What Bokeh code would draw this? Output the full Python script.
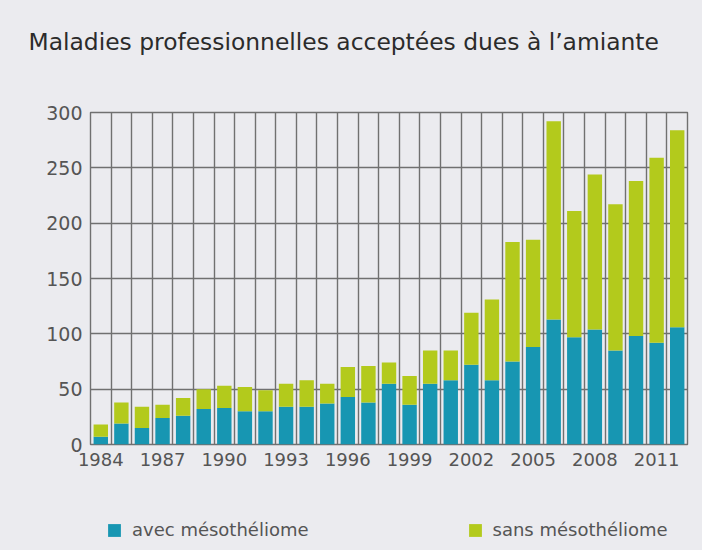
from bokeh.plotting import figure
from bokeh.layouts import column
from bokeh.models import (Range1d, FixedTicker, Legend, LegendItem, ColumnDataSource, Title)
from bokeh.embed import file_html
from bokeh.resources import INLINE

# ---- data ----
years = [1984, 1985, 1986, 1987, 1988, 1989, 1990, 1991, 1992, 1993, 1994, 1995,
         1996, 1997, 1998, 1999, 2000, 2001, 2002, 2003, 2004, 2005, 2006, 2007,
         2008, 2009, 2010, 2011, 2012]
avec = [7, 19, 15, 24, 26, 32, 33, 30, 30, 34, 34, 37,
        43, 38, 55, 36, 55, 58, 72, 58, 75, 88, 113, 97,
        104, 85, 98, 92, 106]
sans = [11, 19, 19, 12, 16, 18, 20, 22, 19, 21, 24, 18,
        27, 33, 19, 26, 30, 27, 47, 73, 108, 97, 179, 114,
        140, 132, 140, 167, 178]
x_ticks = [1984, 1987, 1990, 1993, 1996, 1999, 2002, 2005, 2008, 2011]
y_ticks = [0, 50, 100, 150, 200, 250, 300]
series_names = ["avec mésothéliome", "sans mésothéliome"]
colors = ["#1796b2", "#b3ca1c"]
title_text = "Maladies professionnelles acceptées dues à l’amiante"

BG = "#ebebef"
GRID = "#707070"
FONT = "DejaVu Sans"
W = 702

source = ColumnDataSource(dict(year=years, avec=avec, sans=sans))

# ---------------- main chart ----------------
p = figure(width=W, height=478, output_backend="svg", toolbar_location=None,
           x_range=Range1d(years[0] - 0.5, years[-1] + 0.5),
           y_range=Range1d(0, 300),
           min_border_left=90, min_border_right=15,
           min_border_top=112, min_border_bottom=34)
p.background_fill_color = BG
p.border_fill_color = BG
p.outline_line_color = GRID
p.outline_line_width = 1.4

p.vbar_stack(["avec", "sans"], x="year", width=0.7, color=colors,
             line_color=None, source=source)

p.xaxis.ticker = FixedTicker(ticks=x_ticks)
p.yaxis.ticker = FixedTicker(ticks=y_ticks)
for ax in (p.xaxis, p.yaxis):
    ax.axis_line_color = None
    ax.major_tick_line_color = None
    ax.minor_tick_line_color = None
    ax.major_tick_out = 0
    ax.major_label_text_font = FONT
    ax.major_label_text_color = "#555555"
p.xaxis.major_label_text_font_size = "18px"
p.yaxis.major_label_text_font_size = "19px"
p.xaxis.major_label_standoff = 8
p.yaxis.major_label_standoff = 8

p.xgrid.ticker = FixedTicker(ticks=[y - 0.5 for y in years] + [years[-1] + 0.5])
p.ygrid.ticker = FixedTicker(ticks=y_ticks)
for g in (p.xgrid, p.ygrid):
    g.grid_line_color = GRID
    g.grid_line_width = 1.4
    g.level = "underlay"

# spacer (nearest to frame), then the real title above it
spacer = Title(text=" ", text_font_size="1px", standoff=54)
p.add_layout(spacer, "above")
t = Title(text=title_text, text_font=FONT, text_font_size="23.4px",
          text_font_style="normal", text_color="#2b2b2b", align="left",
          offset=-62, standoff=0)
p.add_layout(t, "above")

# ---------------- legend strip ----------------
# ranges chosen so the hidden bar copies lie entirely outside this strip's frame
lp = figure(width=W, height=72, output_backend="svg", toolbar_location=None,
            x_range=Range1d(1000, 1001),
            y_range=Range1d(1000, 1001),
            x_axis_location=None, y_axis_location=None,
            min_border_left=90, min_border_right=15,
            min_border_top=0, min_border_bottom=0)
lp.background_fill_color = BG
lp.border_fill_color = BG
lp.outline_line_color = None
lp.xgrid.visible = False
lp.ygrid.visible = False
lrs = lp.vbar_stack(["avec", "sans"], x="year", width=0.7, color=colors,
                    line_color=None, source=source)
lg = Legend(items=[LegendItem(label=n, renderers=[r]) for n, r in zip(series_names, lrs)],
            location=(16, 10), orientation="horizontal",
            padding=0, margin=0, spacing=158, border_line_color=None,
            background_fill_alpha=0, glyph_width=16, glyph_height=16,
            label_standoff=10, label_text_font=FONT,
            label_text_font_size="18px", label_text_color="#555555")
lp.add_layout(lg, "center")

layout = column(p, lp, spacing=0, styles={"background-color": BG})
open("out.html", "w").write(file_html(layout, INLINE))
